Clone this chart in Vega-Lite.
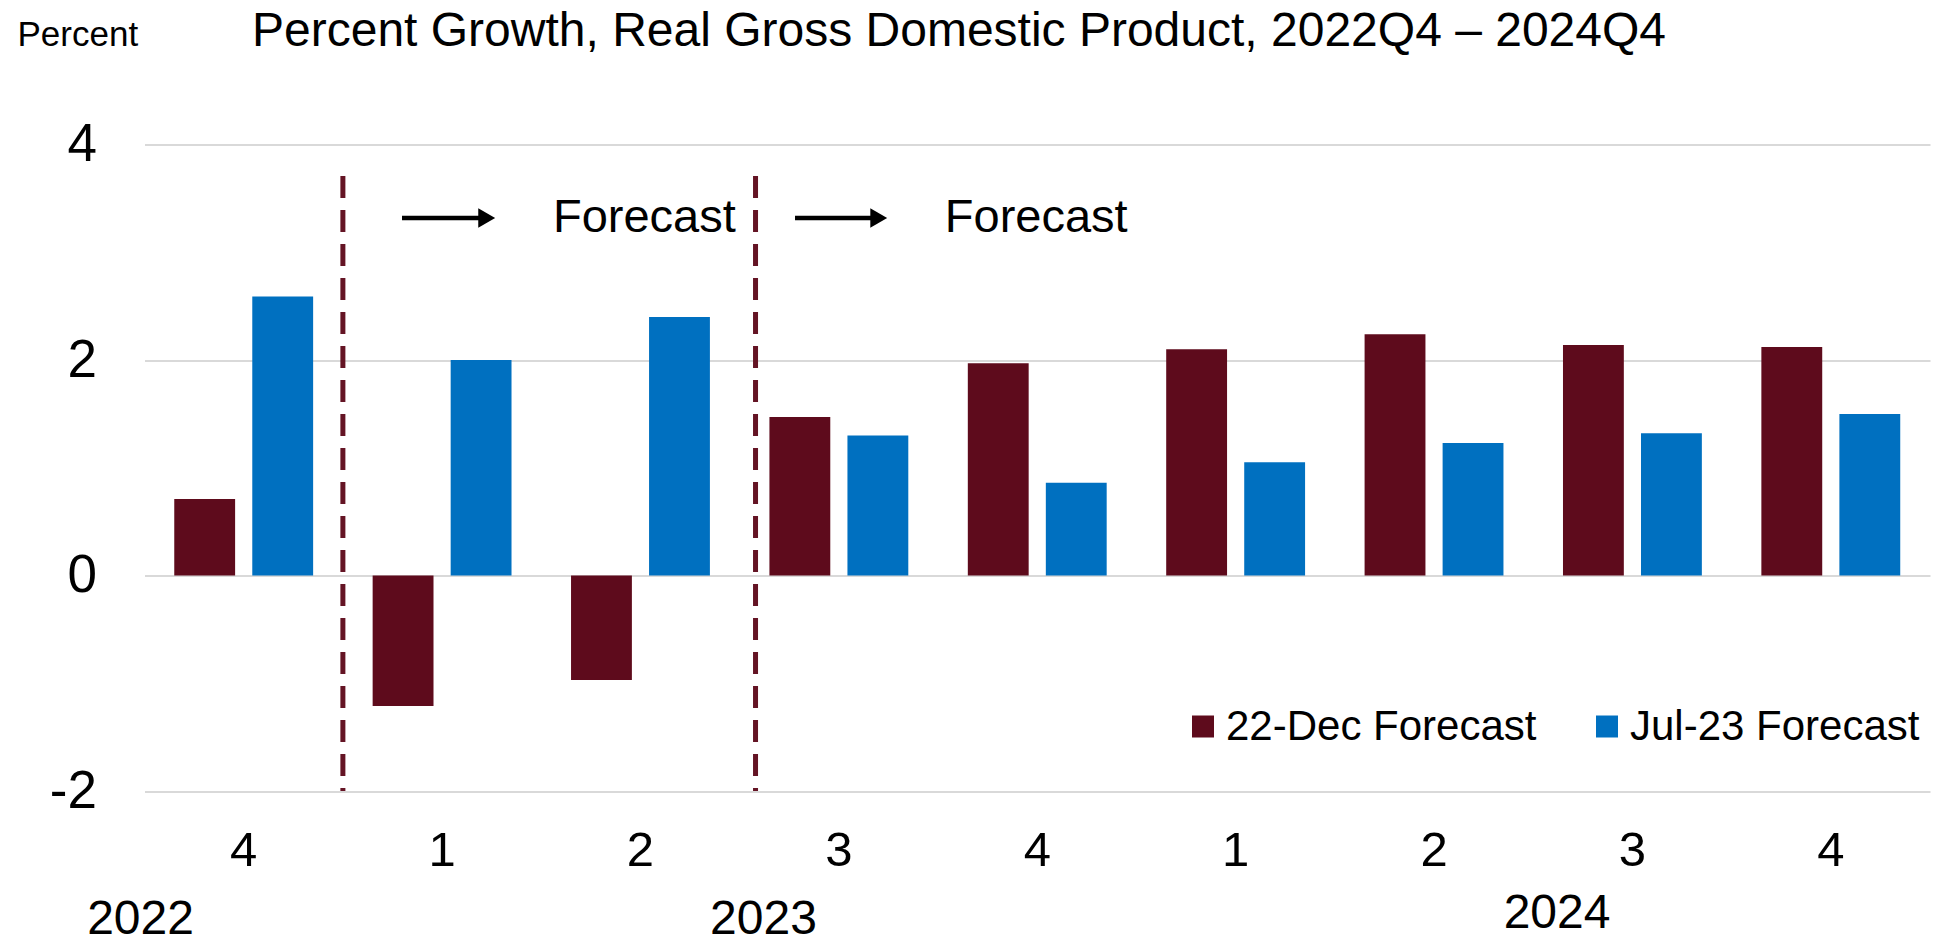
{
  "$schema": "https://vega.github.io/schema/vega-lite/v6.json",
  "width": 1785.5,
  "height": 646.5,
  "autosize": {"type": "none"},
  "padding": {"left": 144.5, "top": 144.5, "right": 24, "bottom": 152},
  "background": "white",
  "config": {"view": {"stroke": null}, "font": "Liberation Sans"},
  "title": {
    "text": "Percent Growth, Real Gross Domestic Product, 2022Q4 – 2024Q4",
    "anchor": "start",
    "frame": "group",
    "dx": 107.5,
    "dy": 77,
    "fontSize": 48,
    "font": "Liberation Sans",
    "fontWeight": "normal",
    "color": "black",
    "baseline": "alphabetic",
    "offset": 0
  },
  "datasets": {
    "gdp": [
      {"period": "2022Q4", "series": "22-Dec Forecast", "value": 0.71},
      {"period": "2022Q4", "series": "Jul-23 Forecast", "value": 2.59},
      {"period": "2023Q1", "series": "22-Dec Forecast", "value": -1.21},
      {"period": "2023Q1", "series": "Jul-23 Forecast", "value": 2.0},
      {"period": "2023Q2", "series": "22-Dec Forecast", "value": -0.97},
      {"period": "2023Q2", "series": "Jul-23 Forecast", "value": 2.4},
      {"period": "2023Q3", "series": "22-Dec Forecast", "value": 1.47},
      {"period": "2023Q3", "series": "Jul-23 Forecast", "value": 1.3},
      {"period": "2023Q4", "series": "22-Dec Forecast", "value": 1.97},
      {"period": "2023Q4", "series": "Jul-23 Forecast", "value": 0.86},
      {"period": "2024Q1", "series": "22-Dec Forecast", "value": 2.1},
      {"period": "2024Q1", "series": "Jul-23 Forecast", "value": 1.05},
      {"period": "2024Q2", "series": "22-Dec Forecast", "value": 2.24},
      {"period": "2024Q2", "series": "Jul-23 Forecast", "value": 1.23},
      {"period": "2024Q3", "series": "22-Dec Forecast", "value": 2.14},
      {"period": "2024Q3", "series": "Jul-23 Forecast", "value": 1.32},
      {"period": "2024Q4", "series": "22-Dec Forecast", "value": 2.12},
      {"period": "2024Q4", "series": "Jul-23 Forecast", "value": 1.5}
    ],
    "dividers": [
      {"x": 1.0, "value": 3.708, "value2": -2},
      {"x": 3.08, "value": 3.708, "value2": -2}
    ],
    "arrows": [
      {"x": 1.298, "x2": 1.70, "value": 3.318},
      {"x": 3.279, "x2": 3.68, "value": 3.318}
    ],
    "heads": [
      {"x": 1.725, "value": 3.318},
      {"x": 3.701, "value": 3.318}
    ],
    "notes": [
      {"x": 2.059, "value": 3.188, "label": "Forecast"},
      {"x": 4.034, "value": 3.188, "label": "Forecast"}
    ],
    "years": [
      {"x": -0.02, "value": -3.33, "label": "2022"},
      {"x": 3.12, "value": -3.33, "label": "2023"},
      {"x": 7.12, "value": -3.275, "label": "2024"}
    ]
  },
  "layer": [
    {
      "data": {"name": "gdp"},
      "mark": {"type": "bar"},
      "encoding": {
        "x": {
          "field": "period",
          "type": "nominal",
          "sort": null,
          "scale": {"paddingInner": 0.3, "paddingOuter": 0.15},
          "axis": {
            "title": null,
            "labelExpr": "substring(datum.label, 5)",
            "labelFontSize": 49,
            "labelFont": "Liberation Sans",
            "labelColor": "black",
            "labelAngle": 0,
            "ticks": false,
            "domain": false,
            "grid": false,
            "labelPadding": 35
          }
        },
        "xOffset": {
          "field": "series",
          "type": "nominal",
          "scale": {"domain": ["22-Dec Forecast", "Jul-23 Forecast"], "paddingInner": 0.22, "paddingOuter": 0}
        },
        "y": {
          "field": "value",
          "type": "quantitative",
          "scale": {"domain": [-2, 4], "nice": false, "zero": false},
          "axis": {
            "title": "Percent",
            "titleAngle": 0,
            "titleX": -127.5,
            "titleY": -99.5,
            "titleAlign": "left",
            "titleBaseline": "alphabetic",
            "titleFontSize": 35,
            "titleFontWeight": "normal",
            "titleFont": "Liberation Sans",
            "titleColor": "black",
            "values": [-2, 0, 2, 4],
            "labelExpr": "'' + datum.value",
            "labelFontSize": 53,
            "labelFont": "Liberation Sans",
            "labelColor": "black",
            "labelPadding": 48,
            "ticks": false,
            "domain": false,
            "grid": true,
            "gridColor": "#D9D9D9",
            "gridWidth": 2
          }
        },
        "color": {
          "field": "series",
          "type": "nominal",
          "scale": {"domain": ["22-Dec Forecast", "Jul-23 Forecast"], "range": ["#5E0B1C", "#0070C0"]},
          "legend": {
            "title": null,
            "orient": "none",
            "legendX": 1037.5,
            "legendY": 561,
            "direction": "horizontal",
            "symbolType": "square",
            "symbolSize": 484,
            "symbolStrokeWidth": 0,
            "labelFontSize": 42,
            "labelFont": "Liberation Sans",
            "labelColor": "black",
            "labelOffset": 2,
            "columnPadding": 49,
            "labelLimit": 0,
            "padding": 0
          }
        }
      }
    },
    {
      "data": {"name": "dividers"},
      "mark": {"type": "rule", "color": "#641424", "strokeWidth": 5, "strokeDash": [22, 12]},
      "encoding": {
        "x": {"field": "x", "type": "quantitative", "scale": {"domain": [0, 9], "nice": false, "zero": false}, "axis": null},
        "y": {"field": "value", "type": "quantitative"},
        "y2": {"field": "value2"}
      }
    },
    {
      "data": {"name": "arrows"},
      "mark": {"type": "rule", "color": "black", "strokeWidth": 4.5},
      "encoding": {
        "x": {"field": "x", "type": "quantitative", "scale": {"domain": [0, 9], "nice": false, "zero": false}, "axis": null},
        "x2": {"field": "x2"},
        "y": {"field": "value", "type": "quantitative"}
      }
    },
    {
      "data": {"name": "heads"},
      "mark": {"type": "point", "shape": "triangle-right", "filled": true, "color": "black", "opacity": 1, "size": 380},
      "encoding": {
        "x": {"field": "x", "type": "quantitative", "scale": {"domain": [0, 9], "nice": false, "zero": false}, "axis": null},
        "y": {"field": "value", "type": "quantitative"}
      }
    },
    {
      "data": {"name": "notes"},
      "mark": {"type": "text", "align": "left", "baseline": "alphabetic", "fontSize": 47, "font": "Liberation Sans", "color": "black"},
      "encoding": {
        "x": {"field": "x", "type": "quantitative", "scale": {"domain": [0, 9], "nice": false, "zero": false}, "axis": null},
        "y": {"field": "value", "type": "quantitative"},
        "text": {"field": "label"}
      }
    },
    {
      "data": {"name": "years"},
      "mark": {"type": "text", "align": "center", "baseline": "alphabetic", "fontSize": 48, "font": "Liberation Sans", "color": "black"},
      "encoding": {
        "x": {"field": "x", "type": "quantitative", "scale": {"domain": [0, 9], "nice": false, "zero": false}, "axis": null},
        "y": {"field": "value", "type": "quantitative"},
        "text": {"field": "label"}
      }
    }
  ],
  "resolve": {"scale": {"x": "independent"}}
}
